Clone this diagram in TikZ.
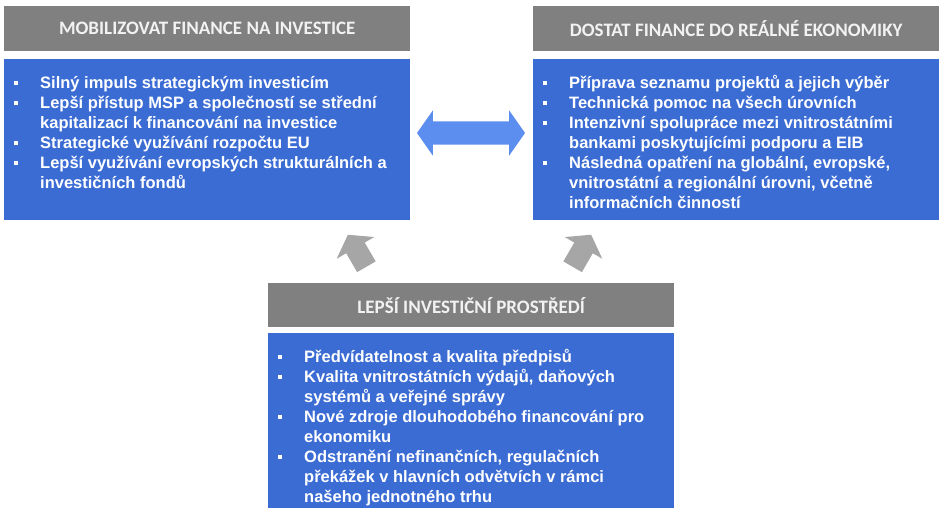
\documentclass[tikz,border=0pt]{standalone}
\usepackage{fontspec}
\setmainfont{Liberation Sans}
\newfontfamily\hdrfont{Carlito}
\usepackage{tikz}
\usetikzlibrary{shapes.arrows,positioning,calc}
\definecolor{hdrgray}{RGB}{128,128,128}
\definecolor{boxblue}{RGB}{59,108,212}
\definecolor{arrblue}{RGB}{92,142,240}
\definecolor{arrgray}{RGB}{166,166,166}
\newcommand{\bul}{\rule[3pt]{4pt}{4pt}}

\begin{document}
\begin{tikzpicture}[x=1pt,y=-1pt,
    hdr/.style={fill=hdrgray, text=white!95!black, anchor=north west, minimum width=406pt, minimum height=45pt, inner sep=0pt, font=\hdrfont\bfseries\fontsize{19}{20}\selectfont},
    box/.style={fill=boxblue, anchor=north west, minimum width=406pt, inner sep=0pt},
    items/.style={anchor=north west, inner sep=0pt, text=white, font=\bfseries\fontsize{16.5}{20}\selectfont},
    uparrow/.style={single arrow, fill=arrgray, inner xsep=0pt, inner ysep=10.5pt, minimum height=37pt, single arrow head extend=11pt, single arrow tip angle=110}]
  \useasboundingbox (0,0) rectangle (945,514);
  % top left
  \node[hdr] (mobHdr) at (4,6) {MOBILIZOVAT FINANCE NA INVESTICE};
  \node[box, minimum height=161pt] (mobBox) at (4,59) {};
  \node[items] (mobList) at ($(mobBox.north west)+(10,15)$) {\begin{tabular}{@{}p{26pt}@{}l@{}}
    \bul & Silný impuls strategickým investicím\\
    \bul & Lepší přístup MSP a společností se střední\\
         & kapitalizací k financování na investice\\
    \bul & Strategické využívání rozpočtu EU\\
    \bul & Lepší využívání evropských strukturálních a\\
         & investičních fondů
  \end{tabular}};
  % top right
  \node[hdr] (dosHdr) at (533,6) {DOSTAT FINANCE DO REÁLNÉ EKONOMIKY};
  \node[box, minimum height=161pt] (dosBox) at (533,59) {};
  \node[items] (dosList) at ($(dosBox.north west)+(10,15)$) {\begin{tabular}{@{}p{26pt}@{}l@{}}
    \bul & Příprava seznamu projektů a jejich výběr\\
    \bul & Technická pomoc na všech úrovních\\
    \bul & Intenzivní spolupráce mezi vnitrostátními\\
         & bankami poskytujícími podporu a EIB\\
    \bul & Následná opatření na globální, evropské,\\
         & vnitrostátní a regionální úrovni, včetně\\
         & informačních činností
  \end{tabular}};
  % bottom
  \node[hdr, minimum height=44pt] (lepHdr) at (268,283) {LEPŠÍ INVESTIČNÍ PROSTŘEDÍ};
  \node[box, minimum height=175pt] (lepBox) at (268,333) {};
  \node[items] (lepList) at ($(lepBox.north west)+(10,15)$) {\begin{tabular}{@{}p{26pt}@{}l@{}}
    \bul & Předvídatelnost a kvalita předpisů\\
    \bul & Kvalita vnitrostátních výdajů, daňových\\
         & systémů a veřejné správy\\
    \bul & Nové zdroje dlouhodobého financování pro\\
         & ekonomiku\\
    \bul & Odstranění nefinančních, regulačních\\
         & překážek v hlavních odvětvích v rámci\\
         & našeho jednotného trhu
  \end{tabular}};
  % arrows
  \node[double arrow, fill=arrblue, inner xsep=0pt, inner ysep=11.5pt, minimum height=108pt, double arrow head extend=11pt, double arrow tip angle=110] (link) at (471,133) {};
  \node[uparrow, rotate=120] (upL) at (359,254) {};
  \node[uparrow, rotate=60] (upR) at (580,254) {};
\end{tikzpicture}
\end{document}
